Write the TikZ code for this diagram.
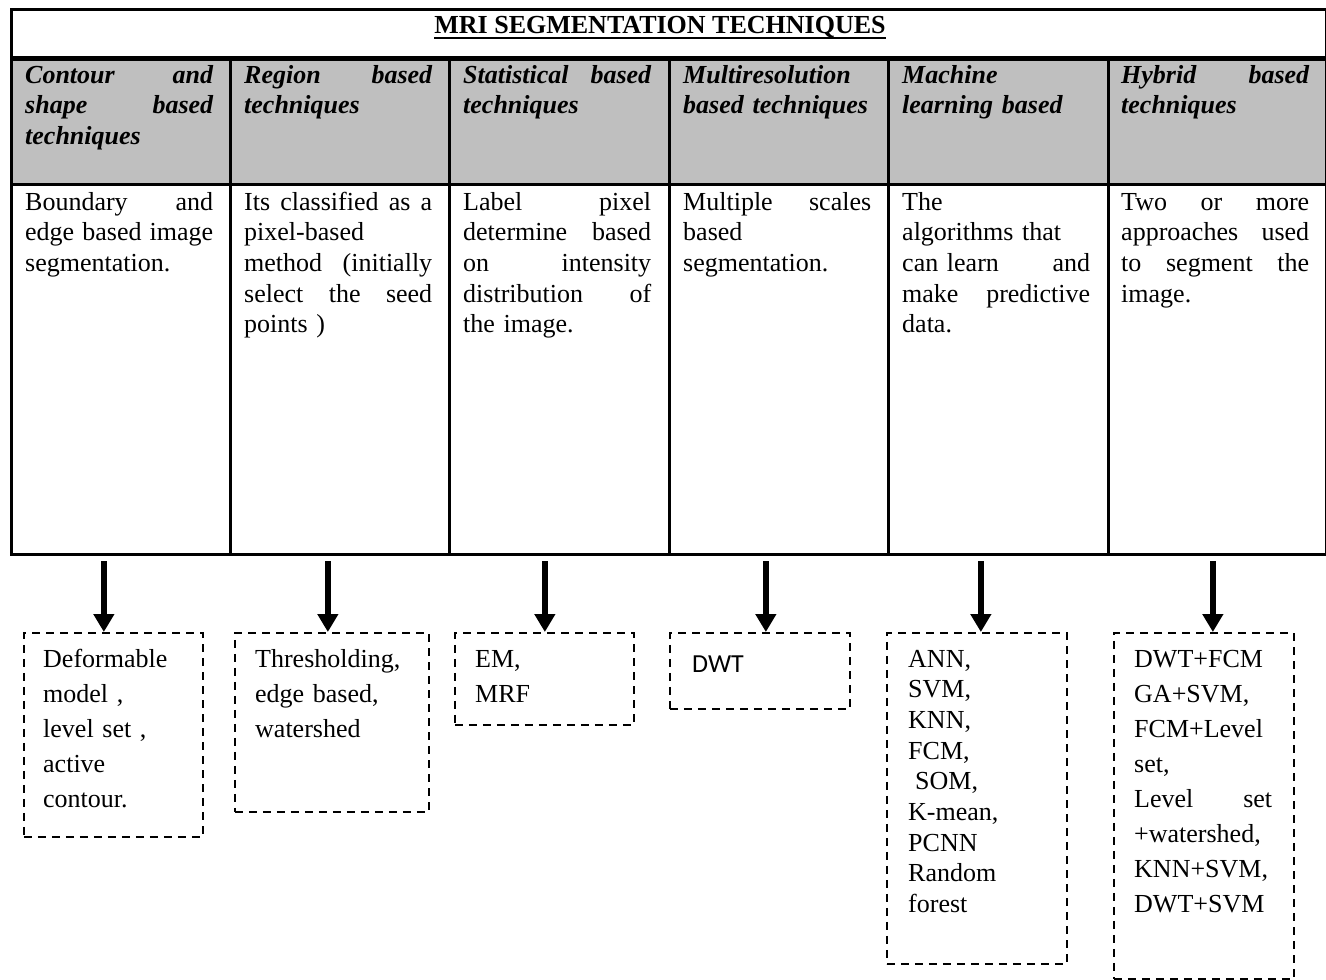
\documentclass[tikz,border=0pt]{standalone}
\usepackage{fontspec}
\setmainfont{Liberation Serif}
\newfontfamily\dwtfont{Carlito}
\usetikzlibrary{arrows.meta}
\definecolor{headgray}{RGB}{191,191,191}
\newcommand\spreadline[1]{\makebox[\linewidth][s]{#1}}
\begin{document}
\begin{tikzpicture}[x=1pt,y=-1pt,
    cell/.style={draw, line width=3pt, anchor=north west, inner sep=0pt},
    head/.style={cell, fill=headgray},
    txt/.style={anchor=base west, inner sep=0pt, text width=188pt, align=left, font=\fontsize{26}{30.7}\selectfont},
    headtxt/.style={txt, font=\fontsize{26}{30.7}\selectfont\bfseries\itshape},
    boxtxt/.style={txt, text width=150pt, font=\fontsize{26}{35}\selectfont},
    dashbox/.style={draw, dash pattern=on 8pt off 6pt, line width=1.7pt, anchor=north west, inner sep=0pt},
    bigarrow/.style={line width=6pt, -{Triangle[width=20pt,length=18pt]}}]
    \useasboundingbox (0,0) rectangle (1326,980);
    \node[cell, minimum width=1315pt, minimum height=48pt] (top) at (10,8) {};
    \foreach \i/\x/\w in {1/10/219,2/229/219,3/448/220,4/668/219,5/887/220,6/1107/218}{
        \node[head, minimum width=\w*1pt, minimum height=127pt] (h\i) at (\x,56) {};
        \node[cell, minimum width=\w*1pt, minimum height=370pt] (b\i) at (\x,183) {};
    }
    \draw[line width=4.5pt] (top.south west) -- (top.south east);
    \node[anchor=base, inner sep=0pt, font=\fontsize{26}{30.7}\selectfont\bfseries] (title) at (660,33) {MRI SEGMENTATION TECHNIQUES};
    \draw[line width=2pt] ([yshift=-5pt]title.base west) -- ([yshift=-5pt]title.base east);
    \node[headtxt] (ht1) at (25,83) {\spreadline{Contour\hfill and}\\\spreadline{shape\hfill based}\\techniques};
    \node[headtxt] (ht2) at (244,83) {\spreadline{Region\hfill based}\\techniques};
    \node[headtxt] (ht3) at (463,83) {\spreadline{Statistical\hfill based}\\techniques};
    \node[headtxt] (ht4) at (683,83) {Multiresolution\\based techniques};
    \node[headtxt] (ht5) at (902,83) {Machine\\learning based};
    \node[headtxt] (ht6) at (1121,83) {\spreadline{Hybrid\hfill based}\\techniques};
    \node[txt] (bt1) at (25,210) {\spreadline{Boundary\hfill and}\\\spreadline{edge\hfill based\hfill image}\\segmentation.};
    \node[txt] (bt2) at (244,210) {\spreadline{Its\hfill classified\hfill as\hfill a}\\pixel-based\\\spreadline{method\hfill (initially}\\\spreadline{select\hfill the\hfill seed}\\points )};
    \node[txt] (bt3) at (463,210) {\spreadline{Label\hfill pixel}\\\spreadline{determine\hfill based}\\\spreadline{on\hfill intensity}\\\spreadline{distribution\hfill of}\\the image.};
    \node[txt] (bt4) at (683,210) {\spreadline{Multiple\hfill scales}\\based\\segmentation.};
    \node[txt] (bt5) at (902,210) {The\\algorithms that\\\spreadline{can learn\hfill and}\\\spreadline{make\hfill predictive}\\data.};
    \node[txt] (bt6) at (1121,210) {\spreadline{Two\hfill or\hfill more}\\\spreadline{approaches\hfill used}\\\spreadline{to\hfill segment\hfill the}\\image.};
    \node[dashbox, minimum width=179pt, minimum height=204pt] (k1) at (23,632) {};
    \node[dashbox, minimum width=194pt, minimum height=179pt] (k2) at (234,632) {};
    \node[dashbox, minimum width=179pt, minimum height=92pt] (k3) at (454,632) {};
    \node[dashbox, minimum width=180pt, minimum height=76pt] (k4) at (669,632) {};
    \node[dashbox, minimum width=180pt, minimum height=331pt] (k5) at (886,632) {};
    \node[dashbox, minimum width=180pt, minimum height=346pt] (k6) at (1113,632) {};
    \node[boxtxt] (kt1) at (43,667) {Deformable\\model ,\\level set ,\\active\\contour.};
    \node[boxtxt] (kt2) at (255,667) {Thresholding,\\edge based,\\watershed};
    \node[boxtxt] (kt3) at (475,667) {EM,\\MRF};
    \node[boxtxt, font=\fontsize{26}{35}\dwtfont] (kt4) at (692,672) {DWT};
    \node[txt, text width=150pt] (kt5) at (908,667) {ANN,\\SVM,\\KNN,\\FCM,\\\hspace*{7pt}SOM,\\K-mean,\\PCNN\\Random\\forest};
    \node[boxtxt, text width=138pt] (kt6) at (1134,667) {DWT+FCM\\GA+SVM,\\FCM+Level\\set,\\\spreadline{Level\hfill set}\\+watershed,\\KNN+SVM,\\DWT+SVM};
    \foreach \i/\dx in {1/-9.5pt,2/-4pt,3/0.5pt,4/6pt,5/4pt,6/9pt}{
        \coordinate (t\i) at ([xshift=\dx]k\i.north);
        \path (t\i |- b\i.south) ++(0,5) coordinate (s\i);
        \draw[bigarrow] (s\i) -- (t\i);
    }
\end{tikzpicture}
\end{document}
